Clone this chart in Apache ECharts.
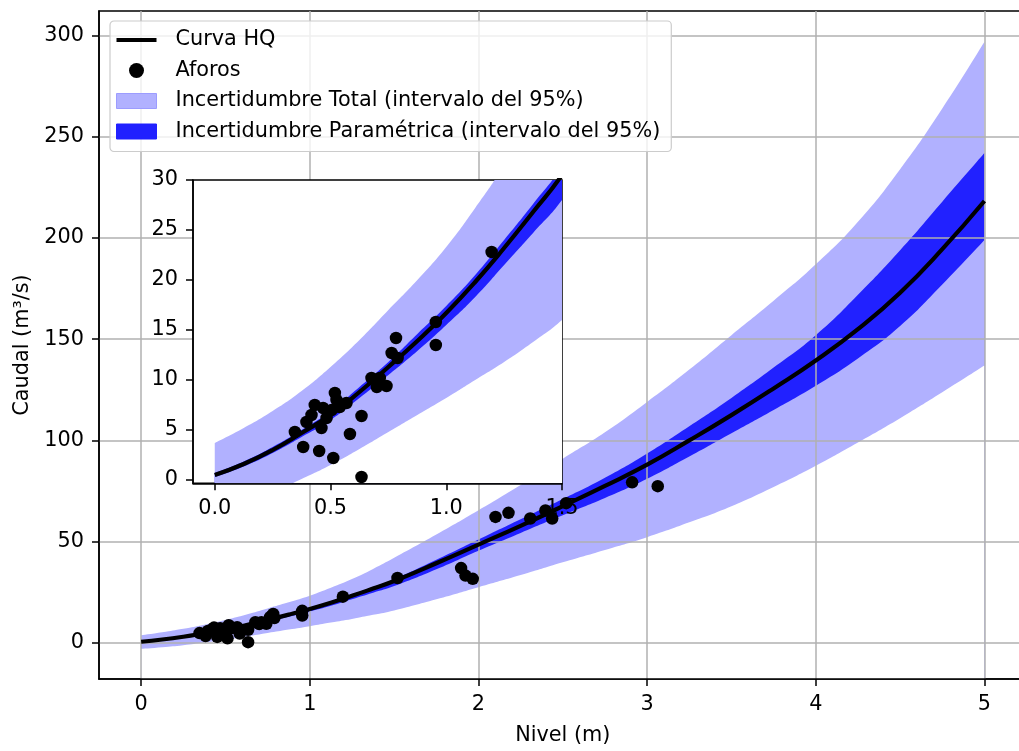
<!DOCTYPE html>
<html><head><meta charset="utf-8">
<script src="https://cdn.jsdelivr.net/npm/echarts@6/dist/echarts.min.js"></script>
<style>html,body{margin:0;padding:0;background:#fff;overflow:hidden}#c{width:1040px;height:751px}</style>
</head><body><div id="c"></div>
<script>
// ---- Data ----
const nivel      = [0, 0.125, 0.25, 0.375, 0.5, 0.625, 0.75, 0.875, 1.0, 1.125, 1.25, 1.375, 1.5, 1.75, 2.0, 2.25, 2.5, 2.75, 3.0, 3.25, 3.5, 3.75, 4.0, 4.25, 4.5, 4.75, 5.0];
const curvaHQ    = [0.5, 1.6, 3.0, 4.7, 6.5, 8.8, 11.3, 13.9, 16.7, 19.8, 23.2, 26.8, 30.5, 39.3, 48.5, 57.8, 67.5, 77.5, 88, 100, 112.5, 125.7, 139.5, 155, 173, 194.5, 218.3];
const paramSup   = [0.7, 1.85, 3.3, 5.0, 6.9, 9.3, 11.8, 14.6, 17.4, 20.5, 24.0, 27.6, 31.4, 41.0, 51.0, 61, 71, 81.5, 93.5, 107, 121, 136, 152, 172, 194, 218, 242];
const paramInf   = [0.3, 1.35, 2.7, 4.3, 6.0, 8.2, 10.5, 12.9, 15.5, 18.3, 21.5, 24.7, 28.0, 36.3, 45.5, 54.3, 63, 71.5, 81, 92, 103.5, 115, 127, 140.5, 156.5, 177, 199];
const totalSup   = [3.7, 5.2, 6.9, 8.9, 11.3, 14.0, 17.0, 20.0, 23.3, 27.2, 31.5, 36.5, 42, 53.5, 65.5, 78, 91, 104, 119, 135, 152, 169, 187, 208, 234, 264, 297];
const totalInf   = [-3.0, -2.2, -1.2, 0.1, 1.5, 3.1, 4.8, 6.5, 8.2, 10.0, 11.8, 13.8, 16.0, 21.5, 27.5, 33.5, 39.8, 45.9, 52.2, 59.5, 67.5, 77, 87.5, 99, 111, 123.8, 137];
const aforosNivel = [1.196, 0.955, 0.955, 0.783, 0.764, 0.79, 0.677, 0.713, 0.742, 0.70, 0.634, 0.584, 0.634, 0.512, 0.451, 0.382, 0.346, 0.396, 0.432, 0.468, 0.519, 0.526, 0.569, 0.54, 0.483, 0.461, 0.418, 0.505,
                     1.52, 1.897, 1.923, 1.966, 2.101, 2.178, 2.307, 2.397, 2.437, 2.52, 2.911, 3.063];
const aforosCaudal = [22.8, 15.8, 13.5, 14.2, 12.7, 12.2, 10.2, 10.2, 9.4, 9.3, 6.4, 4.6, 0.3, 2.2, 2.9, 3.3, 4.8, 5.8, 7.5, 7.2, 8.7, 8.0, 7.7, 7.3, 6.2, 5.2, 6.5, 7.0,
                     32.0, 36.9, 33.2, 31.6, 62.2, 64.2, 61.4, 65.4, 61.4, 69.0, 79.3, 77.4];
const mainXTicks  = [0, 1, 2, 3, 4, 5];
const mainYTicks  = [0, 50, 100, 150, 200, 250, 300];
const insetXTicks = [0, 0.5, 1.0, 1.5];
const insetYTicks = [0, 5, 10, 15, 20, 25, 30];

const NAME_CURVE = 'Curva HQ';
const NAME_AFOROS = 'Aforos';
const NAME_TOTAL = 'Incertidumbre Total (intervalo del 95%)';
const NAME_PARAM = 'Incertidumbre Paramétrica (intervalo del 95%)';

const FONT = 'DejaVu Sans';
const FS = 20.8;
const C_TOTAL = '#b1b1ff';
const C_PARAM = '#2121ff';
const SMOOTH = 0.5;

const pts = ys => nivel.map((h, i) => [h, ys[i]]);
const aforos = aforosNivel.map((h, i) => [h, aforosCaudal[i]]);

function band(name, ys, color, gi, z) {
  return {
    type: 'line', name: name, xAxisIndex: gi, yAxisIndex: gi, data: pts(ys),
    smooth: SMOOTH, symbol: 'none', showSymbol: false,
    lineStyle: { width: 0, opacity: 0 }, itemStyle: { color: color },
    areaStyle: { color: color, opacity: 1, origin: 'start' },
    z: z, silent: true, emphasis: { disabled: true }
  };
}
function layers(gi, z) {
  return [
    band(NAME_TOTAL, totalSup, C_TOTAL, gi, z),
    band(NAME_PARAM, paramSup, C_PARAM, gi, z),
    band('_pinf' + gi, paramInf, C_TOTAL, gi, z),
    band('_tinf' + gi, totalInf, '#ffffff', gi, z),
    { type: 'line', name: NAME_CURVE, xAxisIndex: gi, yAxisIndex: gi, data: pts(curvaHQ),
      smooth: SMOOTH, symbol: 'none', showSymbol: false,
      lineStyle: { color: '#000', width: 4.2 }, itemStyle: { color: '#000' }, z: z + 1, silent: true },
    { type: 'scatter', name: NAME_AFOROS, xAxisIndex: gi, yAxisIndex: gi, data: aforos, symbol: 'circle',
      symbolSize: 12.5, itemStyle: { color: '#000', opacity: 1 }, z: z + 2, silent: true }
  ];
}

function axis(opts) {
  const o = {
    type: 'value', gridIndex: opts.gi, min: opts.min, max: opts.max, z: opts.z,
    axisLine: { show: true, onZero: false, lineStyle: { color: '#000', width: 1.5 } },
    axisTick: { show: true, inside: false, length: 7, customValues: opts.ticks, lineStyle: { color: '#000', width: 1.5 } },
    axisLabel: { show: true, customValues: opts.ticks, margin: 15, color: '#000', fontFamily: FONT, fontSize: FS,
                 formatter: opts.fmt || (v => String(v)) },
    splitLine: { show: !!opts.split, lineStyle: { color: '#b0b0b0', width: 1.5 } },
    minorTick: { show: false }, minorSplitLine: { show: false }
  };
  if (opts.name) {
    o.name = opts.name; o.nameLocation = 'middle'; o.nameGap = opts.nameGap;
    o.nameTextStyle = { color: '#000', fontFamily: FONT, fontSize: FS };
  }
  return o;
}

const chart = echarts.init(document.getElementById('c'), null, { renderer: 'canvas' });
chart.setOption({
  animation: false,
  backgroundColor: '#ffffff',
  textStyle: { fontFamily: FONT },
  grid: [
    { left: 99, top: 11, width: 927.6, height: 676.3, show: true, borderColor: '#000', borderWidth: 1.5,
      backgroundColor: 'transparent', z: 0 },
    { left: 193, top: 180, width: 369, height: 303.3, show: true, borderColor: '#000', borderWidth: 1.5,
      backgroundColor: '#ffffff', z: 5 }
  ],
  xAxis: [
    axis({ gi: 0, min: -0.25, max: 5.25, ticks: mainXTicks, split: true, z: 2, name: 'Nivel (m)', nameGap: 46 }),
    axis({ gi: 1, min: -0.094, max: 1.5, ticks: insetXTicks, split: false, z: 9, fmt: v => v.toFixed(1) })
  ],
  yAxis: [
    axis({ gi: 0, min: -17.9, max: 312.2, ticks: mainYTicks, split: true, z: 2, name: 'Caudal (m³/s)', nameGap: 64 }),
    axis({ gi: 1, min: -0.33, max: 30, ticks: insetYTicks, split: false, z: 9 })
  ],
  legend: {
    left: 110, top: 21, orient: 'vertical', itemWidth: 40, itemHeight: 15, itemGap: 8.5,
    padding: [8, 11, 9, 6], backgroundColor: 'rgba(255,255,255,0.8)', borderColor: '#cccccc',
    borderWidth: 1.2, borderRadius: 4, selectedMode: false, z: 10,
    textStyle: { fontFamily: FONT, fontSize: FS, color: '#000', lineHeight: 22, padding: [0, 0, 0, 14] },
    data: [
      { name: NAME_CURVE, icon: 'path://M0,0L40,0L40,4.2L0,4.2Z', itemStyle: { color: '#000', borderWidth: 0 } },
      { name: NAME_AFOROS, icon: 'circle', itemStyle: { color: '#000' } },
      { name: NAME_TOTAL, icon: 'rect', itemStyle: { color: C_TOTAL, borderColor: '#9c9cff', borderWidth: 1 } },
      { name: NAME_PARAM, icon: 'rect', itemStyle: { color: C_PARAM, borderColor: '#2121ff', borderWidth: 1 } }
    ]
  },
  series: [].concat(layers(0, 1), layers(1, 6))
});
</script>
</body></html>
